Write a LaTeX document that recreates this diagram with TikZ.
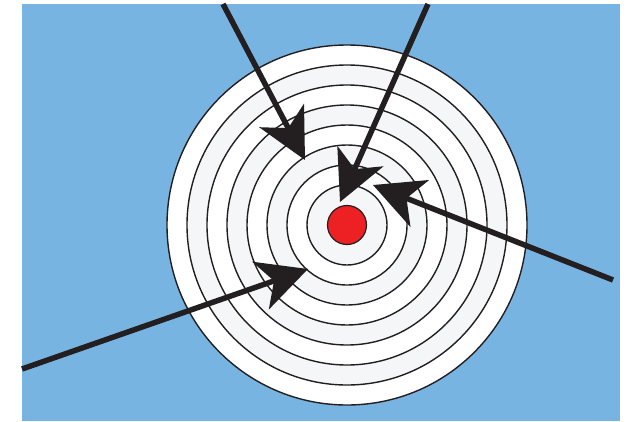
\documentclass[tikz,border=0pt]{standalone}
\usetikzlibrary{arrows.meta}
\definecolor{skyblue}{RGB}{120,180,226}
\definecolor{inkdark}{RGB}{35,31,32}
\definecolor{ringgray}{RGB}{244,246,248}
\definecolor{bullred}{RGB}{237,32,36}
\begin{document}
\begin{tikzpicture}[x=1pt,y=-1pt,
  ring/.style={draw=inkdark,line width=1.4pt},
  dart/.style={draw=inkdark,line width=5.5pt,
    -{Stealth[length=50pt,width=50pt,inset=14pt,fill=inkdark,line join=miter]}}]
\useasboundingbox (0,0) rectangle (627,421);
\fill[skyblue] (22,4) rectangle (620,421);
\coordinate (c) at (347,225);
\foreach \r/\f in {180/white,160/ringgray,140/white,120/ringgray,100/white,80/ringgray,60/white,40/ringgray}{
  \filldraw[ring,fill=\f] (c) circle (\r);
}
\filldraw[draw=inkdark,line width=1.2pt,fill=bullred] (c) circle (19.5);
\coordinate (s1) at (223,4);   \coordinate (t1) at (305,160);
\coordinate (s2) at (428,4);   \coordinate (t2) at (340,202);
\coordinate (s3) at (613,280); \coordinate (t3) at (373,185);
\coordinate (s4) at (22,369);  \coordinate (t4) at (308,269);
\draw[dart] (s1) -- (t1);
\draw[dart] (s2) -- (t2);
\draw[dart] (s3) -- (t3);
\draw[dart] (s4) -- (t4);
\end{tikzpicture}
\end{document}
